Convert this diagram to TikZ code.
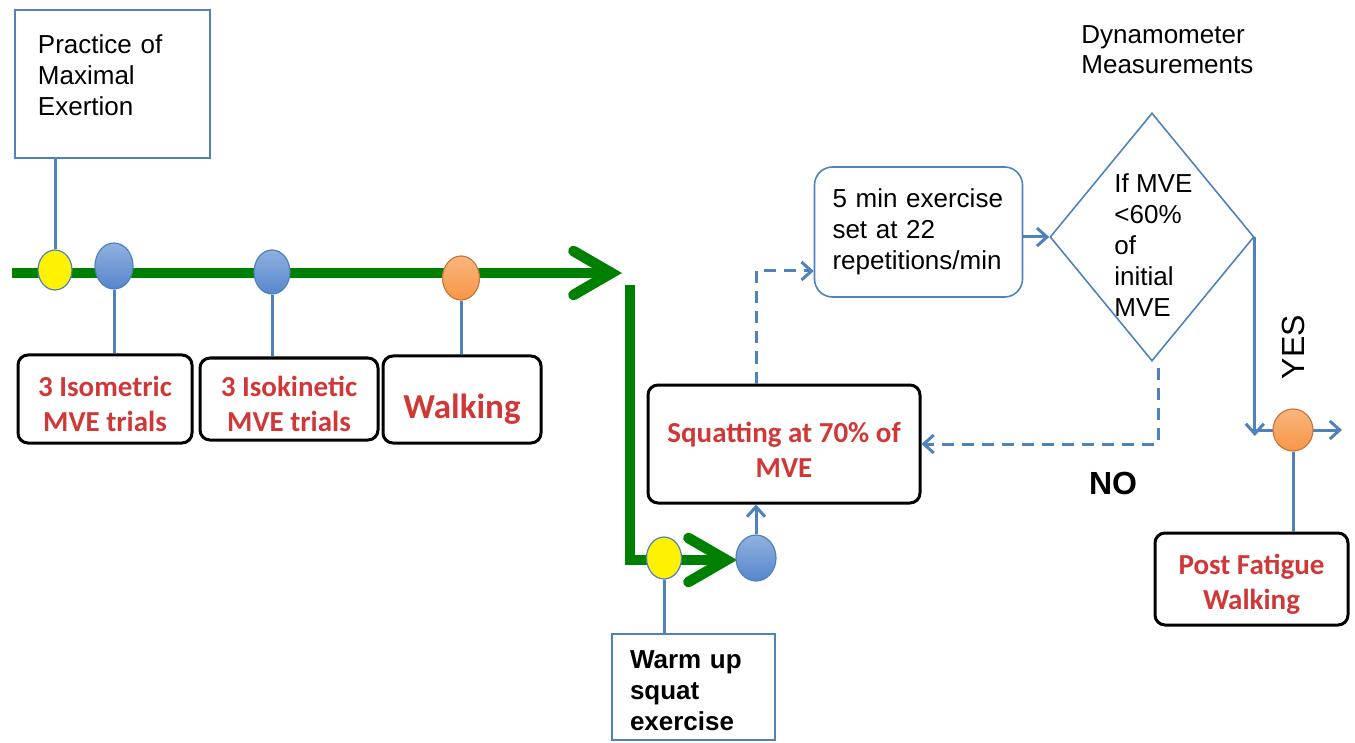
\documentclass[tikz,border=0pt]{standalone}
\usepackage{fontspec}
\setmainfont{Liberation Sans}
\newfontfamily\calibri{Carlito}
\usetikzlibrary{arrows.meta, shapes.geometric, positioning}
\definecolor{linkblue}{RGB}{79,129,189}
\definecolor{taskred}{RGB}{208,56,56}
\definecolor{tlgreen}{RGB}{0,128,0}
\definecolor{dotblue}{RGB}{86,134,205}
\definecolor{dotorange}{RGB}{247,150,70}
\begin{document}
\begin{tikzpicture}[x=0.5pt,y=-0.5pt]

\tikzset{note/.style = {draw=linkblue, line width=0.8pt, align=left, font=\fontsize{13pt}{15.5pt}\selectfont}}
\tikzset{task/.style = {draw=black, line width=1.5pt, rounded corners=5pt, align=center, text height=33pt, text=taskred, font=\calibri\bfseries\fontsize{14.5pt}{17.5pt}\selectfont}}
\tikzset{dot/.style = {ellipse, draw=linkblue, line width=0.6pt, inner sep=0pt}}
\tikzset{bluedot/.style = {dot, top color=dotblue!65!white, bottom color=dotblue}}
\tikzset{orangedot/.style = {dot, draw=dotorange!80!black, top color=dotorange!70!white, bottom color=dotorange}}
\tikzset{yellowdot/.style = {dot, fill=yellow}}
\tikzset{pin/.style = {draw=linkblue, line width=1.5pt}}
\tikzset{flow/.style = {pin, -{Straight Barb[length=5pt,width=9pt]}}}
\tikzset{timeline/.style = {draw=tlgreen, line width=5.3pt, -{Straight Barb[length=19pt,width=22pt,line cap=round]}}}

\useasboundingbox (0,0) rectangle (1355,743);

% timeline
\coordinate (start) at (12,273);
\coordinate (tip1) at (622,273);
\coordinate (top2) at (630,285);
\coordinate (tip2) at (737,560);
\draw[timeline] (start) -- (tip1);
\draw[timeline] (top2) |- (tip2);

% notes and tasks
\node[note, text width=74.5pt, inner xsep=11.5pt, minimum height=74pt, text depth=40pt] (practice) at (112.5,84) {Practice of\\Maximal\\Exertion};
\node[task, minimum width=87pt, minimum height=44pt] (iso) at (105,399) {3 Isometric\\MVE trials};
\node[task, minimum width=89pt, minimum height=41pt] (isokin) at (289,399) {3 Isokinetic\\MVE trials};
\node[task, minimum width=79pt, minimum height=43.5pt, text height=23pt, text depth=4pt, font=\calibri\bfseries\fontsize{17.5pt}{20pt}\selectfont] (walk) at (462,399.5) {Walking};
\node[note, text width=63.5pt, inner xsep=9pt, minimum height=53pt, text height=13pt, font=\bfseries\fontsize{13pt}{15.5pt}\selectfont] (warm) at (693.5,687) {Warm up\\squat\\exercise};
\node[task, minimum width=136pt, minimum height=59pt] (squat) at (784,444) {Squatting at 70\% of\\MVE};
\node[note, rounded corners=9pt, text width=86pt, inner xsep=9pt, minimum height=65pt] (five) at (918.5,232) {5 min exercise\\set at 22\\repetitions/min};
\node[diamond, draw=linkblue, line width=0.8pt, minimum width=102pt, minimum height=124pt, inner sep=0pt] (check) at (1152,237) {};
\node[align=left, anchor=west, inner sep=0pt, font=\fontsize{13pt}{15.5pt}\selectfont] (checktext) at (1114,245) {If MVE\\<60\%\\of\\initial\\MVE};
\node[align=left, anchor=west, inner sep=0pt, font=\fontsize{13pt}{15pt}\selectfont] (dyn) at (1081,50) {Dynamometer\\Measurements};
\node[task, minimum width=96.5pt, minimum height=46pt] (post) at (1251.5,579) {Post Fatigue\\Walking};

% dots
\node[yellowdot, minimum width=17pt, minimum height=20pt] (y1) at (55,270) {};
\node[bluedot, minimum width=19pt, minimum height=23pt] (b1) at (114,266) {};
\node[bluedot, minimum width=18pt, minimum height=22pt] (b2) at (272,272) {};
\node[orangedot, minimum width=18.5pt, minimum height=22pt] (o1) at (461,278) {};
\node[yellowdot, minimum width=17.5pt, minimum height=21pt] (y2) at (664,558) {};
\node[bluedot, minimum width=20pt, minimum height=23pt] (b3) at (756,558) {};

% edges
\draw[pin] (practice.south -| y1) -- (y1.north);
\draw[pin] (b1.south) -- (b1.south |- iso.north);
\draw[pin] (b2.south) -- (b2.south |- isokin.north);
\draw[pin] (o1.south) -- (o1.south |- walk.north);
\draw[pin] (y2.south) -- (y2.south |- warm.north);
\draw[flow] (b3.north) -- (b3.north |- squat.south);
\draw[flow, dash pattern=on 6pt off 4pt] (squat.north -| b3) |- ([yshift=-19.5pt]five.west);
\draw[flow] (five.east |- check.west) -- (check.west);
\draw[flow, dash pattern=on 6pt off 4pt] ([xshift=3pt,yshift=-3pt]check.south) |- (squat.east);

% yes branch
\coordinate (exit) at (1342,430);
\draw[flow] (check.east) -- ([yshift=-3pt]check.east |- exit);
\draw[flow] (check.east |- exit) -- (exit);
\node[orangedot, minimum width=20pt, minimum height=21pt] (o2) at (1293,430) {};
\draw[pin] (o2.south) -- (o2.south |- post.north);
\node[rotate=90, font=\fontsize{16pt}{18pt}\selectfont] (yes) at (1293,347) {YES};
\node[font=\bfseries\fontsize{16pt}{18pt}\selectfont] (no) at (1113,483) {NO};
\end{tikzpicture}
\end{document}
